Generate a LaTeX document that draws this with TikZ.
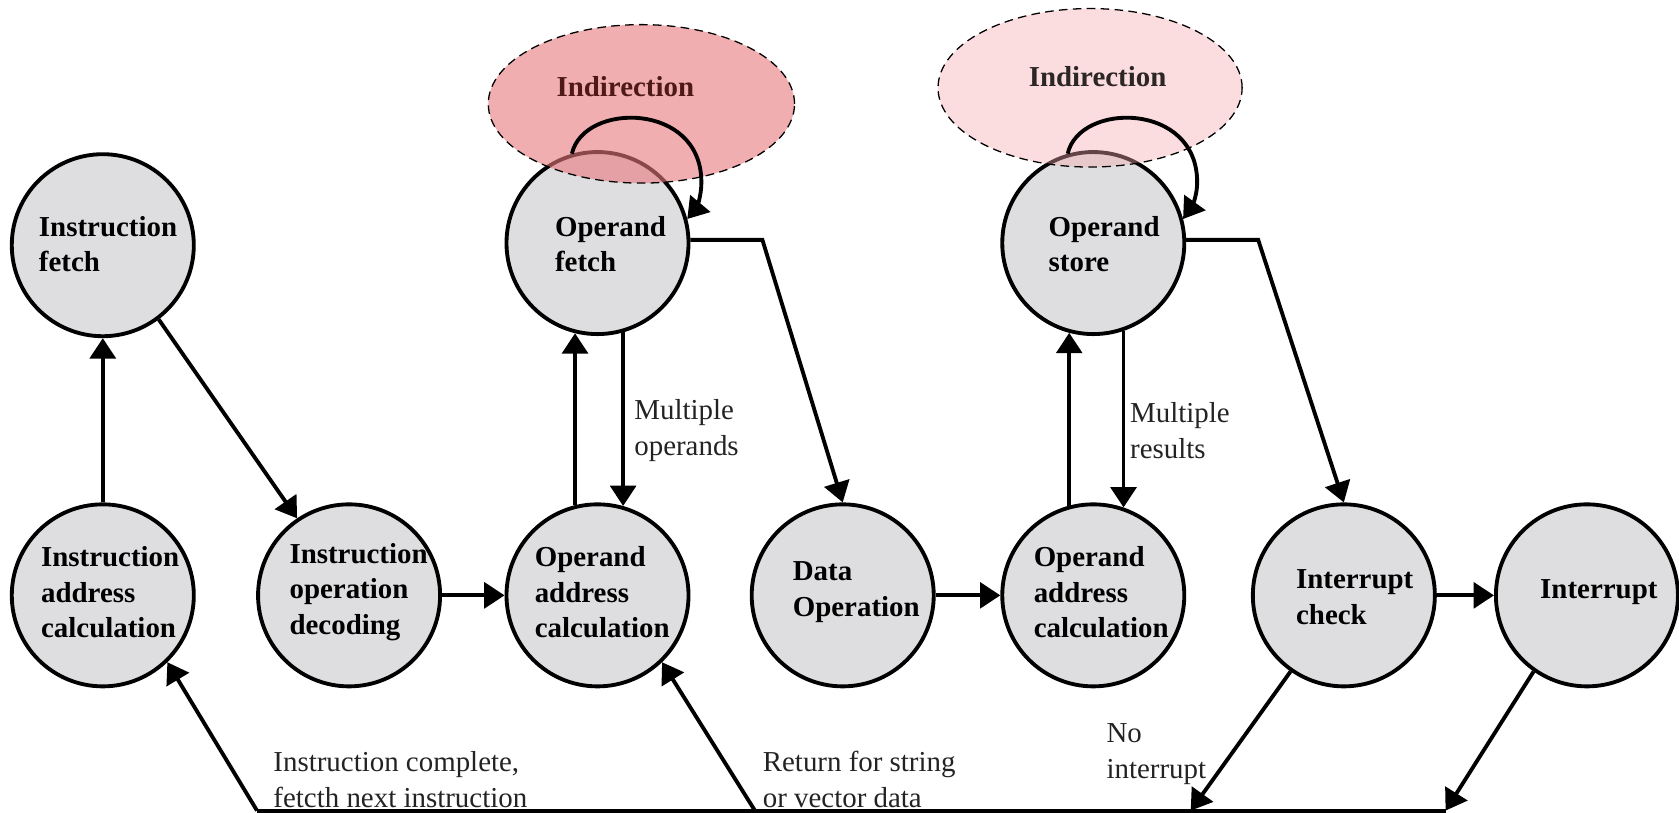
\documentclass[tikz,border=0pt]{standalone}
\usepackage{fontspec}
\setmainfont{Liberation Serif}
\usetikzlibrary{arrows.meta,calc,shapes.geometric}
\definecolor{statefill}{RGB}{222,222,224}
\definecolor{indA}{RGB}{232,120,125}
\definecolor{indB}{RGB}{245,170,175}
\definecolor{indAtext}{RGB}{80,25,25}
\definecolor{indBtext}{RGB}{45,38,38}
\definecolor{labeltext}{RGB}{35,35,35}
\begin{document}
\begin{tikzpicture}[x=0.5pt,y=-0.5pt,
  state/.style={circle, draw, line width=1.8pt, fill=statefill, minimum size=85pt, inner sep=0pt},
  stext/.style={anchor=west, align=left, inner sep=0pt, font=\bfseries\fontsize{13.5}{16.75}\selectfont},
  ltext/.style={anchor=west, align=left, inner sep=0pt, text=labeltext, font=\fontsize{13.5}{17}\selectfont},
  indir/.style={ellipse, draw, dashed, dash pattern=on 4pt off 2.5pt, line width=0.6pt, inner sep=0pt},
  arr/.style={line width=1.8pt, -{Triangle[length=9.5pt,width=12pt]}},
  plain/.style={line width=1.8pt}
]
\useasboundingbox (0,0) rectangle (1568,759);

% states of the instruction cycle
\node[state] (IF)   at (96,229)   {};
\node[state] (IAC)  at (96,556)   {};
\node[state] (IOD)  at (326,556)  {};
\node[state] (OF)   at (558,227)  {};
\node[state] (OAC1) at (558,556)  {};
\node[state] (DO)   at (787,556)  {};
\node[state] (OAC2) at (1021,556) {};
\node[state] (OS)   at (1021,227) {};
\node[state] (IC)   at (1255,556) {};
\node[state] (INT)  at (1482,556) {};

% state names
\node[stext] (IFt)   at (36,228)   {Instruction\\fetch};
\node[stext] (IACt)  at (38,553)   {Instruction\\address\\calculation};
\node[stext] (IODt)  at (270,553)  {Instruction\\operation\\decoding};
\node[stext] (OFt)   at (518,228)  {Operand\\fetch};
\node[stext] (OAC1t) at (499,553)  {Operand\\address\\calculation};
\node[stext] (DOt)   at (740,553)  {Data\\Operation};
\node[stext] (OAC2t) at (965,553)  {Operand\\address\\calculation};
\node[stext] (OSt)   at (979,228)  {Operand\\store};
\node[stext] (ICt)   at (1210,558) {Interrupt\\check};
\node[stext] (INTt)  at (1438,553) {Interrupt};

% indirection regions, laid over the states
\node[indir, fill=indA, fill opacity=0.6, minimum width=143pt, minimum height=74pt] (IND1) at (599,97) {};
\node[indir, fill=indB, fill opacity=0.4, minimum width=142pt, minimum height=74pt] (IND2) at (1018,82) {};
\node[stext, anchor=center, text=indAtext] (IND1t) at (584,81) {Indirection};
\node[stext, anchor=center, text=indBtext] (IND2t) at (1025,72) {Indirection};

% indirection loops
\draw[arr] (OF.106) .. controls (545,95) and (655,95) .. (655,170)
  .. controls (655,186) and (649,196) .. (OF.15);
\draw[arr] (OS.106) .. controls (1008,95) and (1118,95) .. (1118,170)
  .. controls (1118,186) and (1111,196) .. (OS.15);

% instruction part of the cycle
\draw[arr] (IAC.north) -- (IF.south);
\draw[arr] (IF.-53) -- (IOD.124);
\draw[arr] (IOD.east) -- (OAC1.west);

% operand fetch
\draw[arr] (OAC1.104) -- (OF.256);
\draw[arr] (OF.286) -- (OAC1.74);
\coordinate (c1) at (712,224);
\draw[arr] (OF.east |- c1) -- (c1) -- (DO.north);

% operand store
\draw[arr] (DO.east) -- (OAC2.west);
\draw[arr] (OAC2.105) -- (OS.255);
\draw[arr] (OS.289) -- (OAC2.71);
\coordinate (c2) at (1175,224);
\draw[arr] (OS.east |- c2) -- (c2) -- (IC.north);

% interrupt handling
\draw[arr] (IC.east) -- (INT.west);

% return path along the bottom
\coordinate (b1) at (240,757);
\coordinate (b2) at (705,757);
\coordinate (b3) at (1112,757);
\coordinate (b4) at (1350,757);
\draw[plain] (b1) -- (b4);
\draw[arr] (b1) -- (IAC.-46);
\draw[arr] (b2) -- (OAC1.-46);
\draw[arr] (IC.-125) -- (b3);
\draw[arr] (INT.-125) -- (b4);

% connector labels
\node[ltext] (L1) at (592,402)  {Multiple\\operands};
\node[ltext] (L2) at (1055,402) {Multiple\\results};
\node[ltext] (L3) at (255,728)  {Instruction complete,\\fetcth next instruction};
\node[ltext] (L4) at (712,728)  {Return for string\\or vector data};
\node[ltext] (L5) at (1033,704) {No\\interrupt};
\end{tikzpicture}
\end{document}
